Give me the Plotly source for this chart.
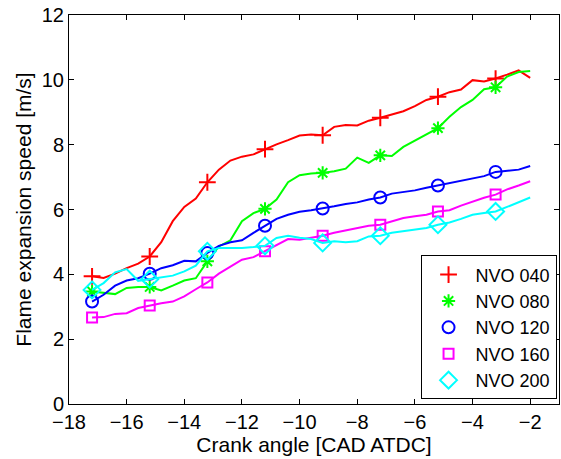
import plotly.graph_objects as go

crank_angle = [-17.2 + 0.4 * i for i in range(39)]

nvo040 = [3.94, 3.89, 4.02, 4.19, 4.33, 4.55, 4.99, 5.64, 6.08, 6.34, 6.84, 7.23, 7.51, 7.63,
          7.70, 7.86, 8.01, 8.14, 8.28, 8.31, 8.29, 8.55, 8.61, 8.59, 8.74, 8.83, 8.92, 9.03,
          9.19, 9.38, 9.48, 9.62, 9.70, 9.99, 9.95, 10.04, 10.16, 10.29, 10.06]
nvo080 = [3.47, 3.42, 3.39, 3.58, 3.61, 3.61, 3.50, 3.65, 3.81, 3.88, 4.40, 4.86, 5.05, 5.64,
          5.89, 6.02, 6.31, 6.84, 7.06, 7.11, 7.13, 7.18, 7.26, 7.60, 7.44, 7.67, 7.65, 7.93,
          8.13, 8.33, 8.51, 8.86, 9.16, 9.38, 9.71, 9.77, 10.10, 10.24, 10.27]
nvo120 = [3.16, 3.37, 3.65, 3.81, 3.88, 4.02, 4.19, 4.28, 4.42, 4.40, 4.66, 4.88, 4.99, 5.05,
          5.28, 5.50, 5.71, 5.84, 5.93, 5.98, 6.03, 6.10, 6.17, 6.22, 6.31, 6.37, 6.49, 6.53,
          6.59, 6.67, 6.74, 6.80, 6.89, 6.96, 7.03, 7.16, 7.20, 7.23, 7.34]
nvo160 = [2.67, 2.68, 2.78, 2.80, 2.96, 3.04, 3.11, 3.16, 3.32, 3.54, 3.75, 4.02, 4.24, 4.45,
          4.53, 4.71, 4.91, 5.09, 5.07, 5.12, 5.19, 5.28, 5.36, 5.43, 5.50, 5.53, 5.64, 5.74,
          5.79, 5.84, 5.94, 5.98, 6.12, 6.25, 6.36, 6.46, 6.62, 6.74, 6.87]
nvo200 = [3.52, 3.73, 4.06, 4.16, 3.80, 3.85, 3.92, 3.96, 4.09, 4.27, 4.71, 4.81, 4.81, 4.81,
          4.84, 4.88, 5.12, 5.19, 5.13, 5.09, 4.97, 5.02, 4.99, 5.02, 5.17, 5.19, 5.28, 5.33,
          5.36, 5.43, 5.53, 5.60, 5.71, 5.84, 5.89, 5.94, 6.08, 6.22, 6.37]

series_names = ["NVO 040", "NVO 080", "NVO 120", "NVO 160", "NVO 200"]
series_values = [nvo040, nvo080, nvo120, nvo160, nvo200]
colors = ["#ff0000", "#00ff00", "#0000ff", "#ff00ff", "#00ffff"]
symbols = ["cross-thin-open", "asterisk-open", "circle-open", "square-open", "diamond-open"]
sizes = [12, 11, 12, 10, 13]

x_ticks = [-18, -16, -14, -12, -10, -8, -6, -4, -2]
y_ticks = [0, 2, 4, 6, 8, 10, 12]

FONT = "Liberation Sans, Arial, Helvetica, sans-serif"

fig = go.Figure()
for name, ys, c, s, sz in zip(series_names, series_values, colors, symbols, sizes):
    fig.add_trace(go.Scatter(x=crank_angle, y=ys, mode="lines",
                             line=dict(color=c, width=2), showlegend=False, hoverinfo="skip"))
    fig.add_trace(go.Scatter(x=crank_angle[::5], y=ys[::5], mode="markers",
                             marker=dict(symbol=s, size=sz, color=c, line=dict(color=c, width=2)),
                             showlegend=False, name=name))
for name, c, s, sz in zip(series_names, colors, symbols, sizes):
    fig.add_trace(go.Scatter(x=[None], y=[None], mode="markers", name=name,
                             marker=dict(symbol=s, size=sz, color=c, line=dict(color=c, width=2))))

axis_common = dict(showline=True, linecolor="black", linewidth=1, mirror="ticks",
                   ticks="inside", ticklen=5, tickcolor="black", tickwidth=1, automargin=False,
                   showgrid=False, zeroline=False, tickfont=dict(family=FONT, size=20, color="black"))

fig.update_xaxes(range=[-18, -1], tickvals=x_ticks,
                 ticktext=[("\u2212" + str(-v)) if v < 0 else str(v) for v in x_ticks],
                 title=dict(text="Crank angle [CAD ATDC]", font=dict(family=FONT, size=21, color="black"), standoff=0),
                 ticklabelstandoff=0,
                 **axis_common)
fig.update_yaxes(range=[0, 12], tickvals=y_ticks,
                 title=dict(text="Flame expansion speed [m/s]", font=dict(family=FONT, size=21, color="black"), standoff=4),
                 **axis_common)

fig.update_layout(
    template="none",
    width=561, height=459,
    margin=dict(l=69, r=2, t=15, b=55, autoexpand=False),
    plot_bgcolor="white", paper_bgcolor="white",
    font=dict(family=FONT, color="black"),
    legend=dict(x=0.995, y=0.012, xanchor="right", yanchor="bottom",
                bordercolor="black", borderwidth=1, bgcolor="white",
                font=dict(family=FONT, size=18, color="black"),
                itemwidth=44),
)

fig.write_html("out.html", config={"displayModeBar": False},
               post_script="document.body.style.margin='0';document.body.style.overflow='hidden';")
